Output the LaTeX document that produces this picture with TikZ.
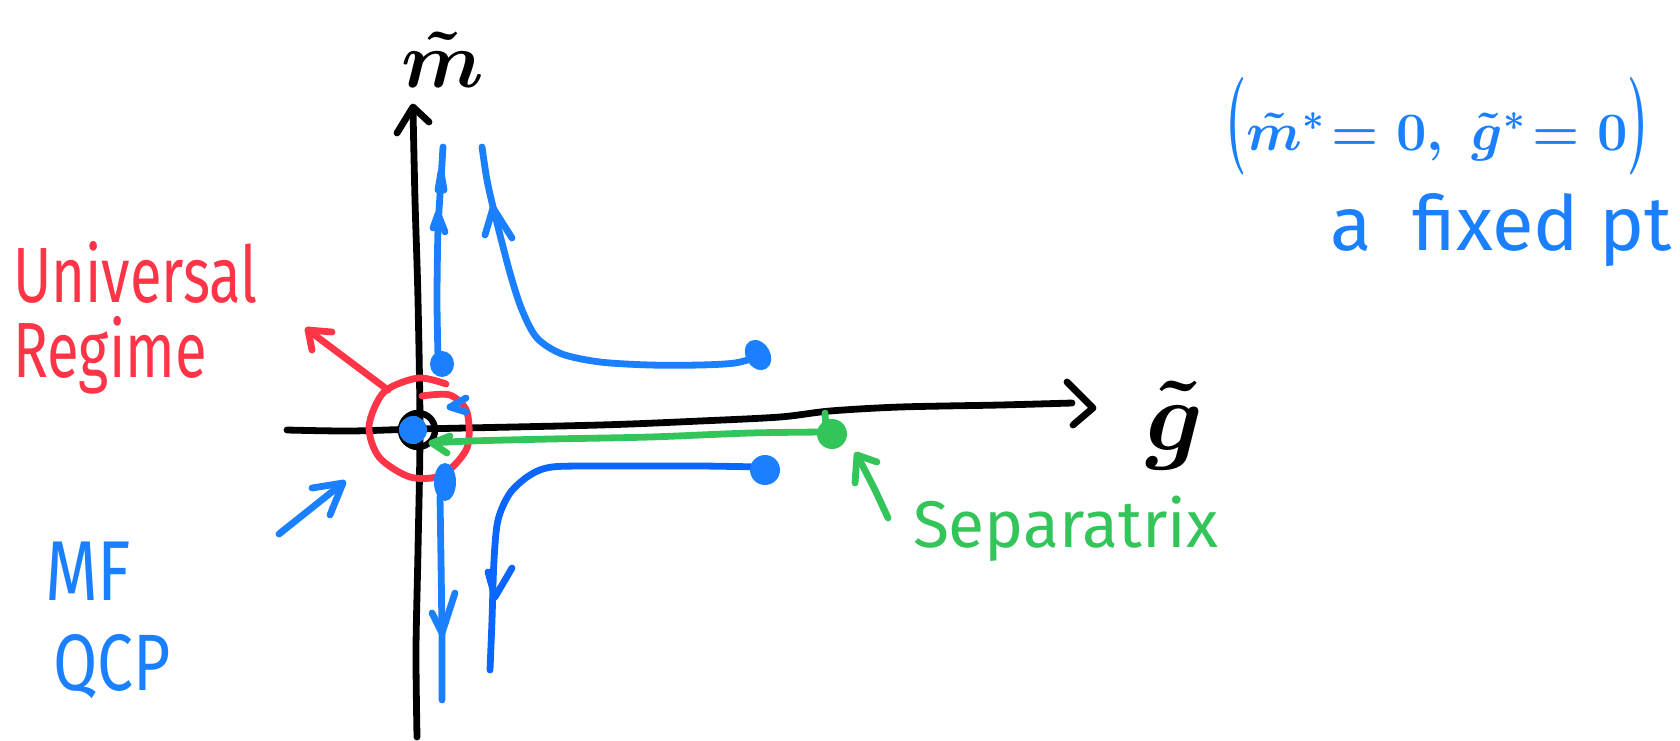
\RequirePackage{fix-cm}
\documentclass[tikz,border=0pt]{standalone}
\usepackage{graphicx}
\usepackage{fontspec}
\newfontfamily\hand{Fira Sans}
\definecolor{hblue}{HTML}{1A80FF}
\definecolor{hdblue}{HTML}{0A66FF}
\definecolor{hred}{HTML}{FF3446}
\definecolor{hgreen}{HTML}{34C55A}
\tikzset{
  stroke/.style={line width=3.4pt, line cap=round, line join=round},
  axisline/.style={stroke, black},
  flowline/.style={stroke, hblue},
  label/.style={inner sep=0pt, outer sep=0pt},
}
\newcommand{\tallparen}[1]{\scalebox{0.9}[1.8]{$#1$}}
\begin{document}
\begin{tikzpicture}[x=0.5pt,y=-0.5pt]
\useasboundingbox (0,0) rectangle (1680,740);
\fill[white] (0,0) rectangle (1680,740);

% ---- axes ----
\coordinate (vtip) at (413,107);
\coordinate (htip) at (1093,408);
\draw[axisline] plot[smooth] coordinates {(413,110) (415,200) (418,300) (420,430) (418,550) (416,650) (417,737)};
\draw[axisline] (397,133) -- (vtip) -- (429,122);
\draw[axisline] plot[smooth] coordinates {(287,430) (350,431) (420,429) (600,425) (700,421) (780,417) (830,411) (900,407) (1000,405) (1072,403)};
\draw[axisline] (1067,382) -- (htip) -- (1073,425);

\node[label, font=\fontsize{40}{44}\selectfont\boldmath] (mlab) at (443,60) {$\tilde m$};
\node[label, font=\fontsize{50}{54}\selectfont\boldmath] (glab) at (1175,425) {$\tilde g$};

% ---- origin ----
\coordinate (origin) at (418,430);
\draw[black, line width=3.2pt] (origin) circle (17);
\fill[hblue] (413,430) circle (14);

% ---- red universal regime ----
\draw[stroke, hred] plot[smooth] coordinates {(422,396) (450,395) (467,412) (467,448) (442,475) (410,477) (379,457) (369,426) (384,392) (418,378) (446,384)};
\coordinate (rstart) at (388,390);
\coordinate (rtip) at (308,330);
\draw[stroke, hred] (rstart) -- (rtip);
\draw[stroke, hred] (332,332) -- (rtip) -- (312,350);
\node[label, anchor=base west, text=hred, font=\hand\fontsize{29}{30}\selectfont] (univ) at (13,302) {\scalebox{1}[1.35]{Universal}};
\node[label, anchor=base west, text=hred, font=\hand\fontsize{29}{30}\selectfont] (regime) at (13,377) {\scalebox{1}[1.35]{Regime}};

% ---- small blue chevron near axis ----
\draw[flowline] (466,398) -- (450,407) -- (466,412);

% ---- upper vertical flow ----
\fill[hblue] (442,364) ellipse (12 and 13);
\draw[flowline] plot[smooth] coordinates {(438,357) (437,300) (438,230) (441,180) (443,147)};
\draw[flowline] (433,228) -- (438,214) -- (445,232);
\draw[flowline] (438,190) -- (441,172) -- (444,190);

% ---- upper hyperbola ----
\draw[flowline] plot[smooth] coordinates {(482,147) (487,180) (495,215) (510,273) (522,310) (537,338) (562,354) (600,362) (650,365) (700,365) (735,363) (757,357)};
\draw[flowline] (485,235) -- (493,208) -- (512,238);
\fill[hblue, rotate around={30:(758,355)}] (758,355) ellipse (12 and 16);

% ---- lower vertical flow ----
\fill[hblue] (445,482) ellipse (11 and 19);
\draw[flowline] plot[smooth] coordinates {(440,497) (441,560) (442,640) (442,700)};
\draw[flowline] (432,613) -- (442,633) -- (455,593);

% ---- lower hyperbola ----
\draw[stroke, hdblue] plot[smooth] coordinates {(490,670) (492,620) (494,560) (498,520) (510,493) (530,475) (552,467) (600,466) (700,466) (760,467)};
\draw[stroke, hdblue] (488,572) -- (495,597) -- (512,568);
\fill[hblue] (765,470) circle (15);

% ---- separatrix ----
\coordinate (gtip) at (432,443);
\draw[stroke, hgreen] plot[smooth] coordinates {(825,432) (750,433) (650,437) (550,439) (470,441) (432,443)};
\draw[stroke, hgreen] (450,436) -- (gtip) -- (447,453);
\fill[hgreen] (832,434) circle (15);
\draw[stroke, hgreen] (825,413) -- (826,428);
\coordinate (ptip) at (857,455);
\draw[stroke, hgreen] plot[smooth] coordinates {(888,518) (874,488) (ptip)};
\draw[stroke, hgreen] (877,462) -- (ptip) -- (855,483);
\node[label, anchor=base west, text=hgreen, font=\hand\fontsize{33}{34}\selectfont] (sep) at (913,547) {Separatrix};

% ---- MF QCP ----
\coordinate (mftail) at (279,534);
\coordinate (mftip) at (343,483);
\draw[flowline] (mftail) -- (mftip);
\draw[flowline] (312,488) -- (mftip) -- (330,515);
\node[label, anchor=base west, text=hblue, font=\hand\fontsize{34}{36}\selectfont] (mf) at (45,600) {\scalebox{1}[1.25]{MF}};
\node[label, anchor=base west, text=hblue, font=\hand\fontsize{32}{36}\selectfont] (qcp) at (53,690) {\scalebox{1}[1.25]{QCP}};

% ---- fixed point note ----
\node[label, text=hblue, font=\fontsize{27}{34}\selectfont\boldmath] (fp) at (1437,126) {\tallparen{(}$\tilde m^{*}\!=0,\;\tilde g^{*}\!=0$\tallparen{)}};
\node[label, anchor=base east, text=hblue, font=\hand\fontsize{38}{40}\selectfont] (fixed) at (1672,250) {a\ \ fixed pt};
\end{tikzpicture}
\end{document}
